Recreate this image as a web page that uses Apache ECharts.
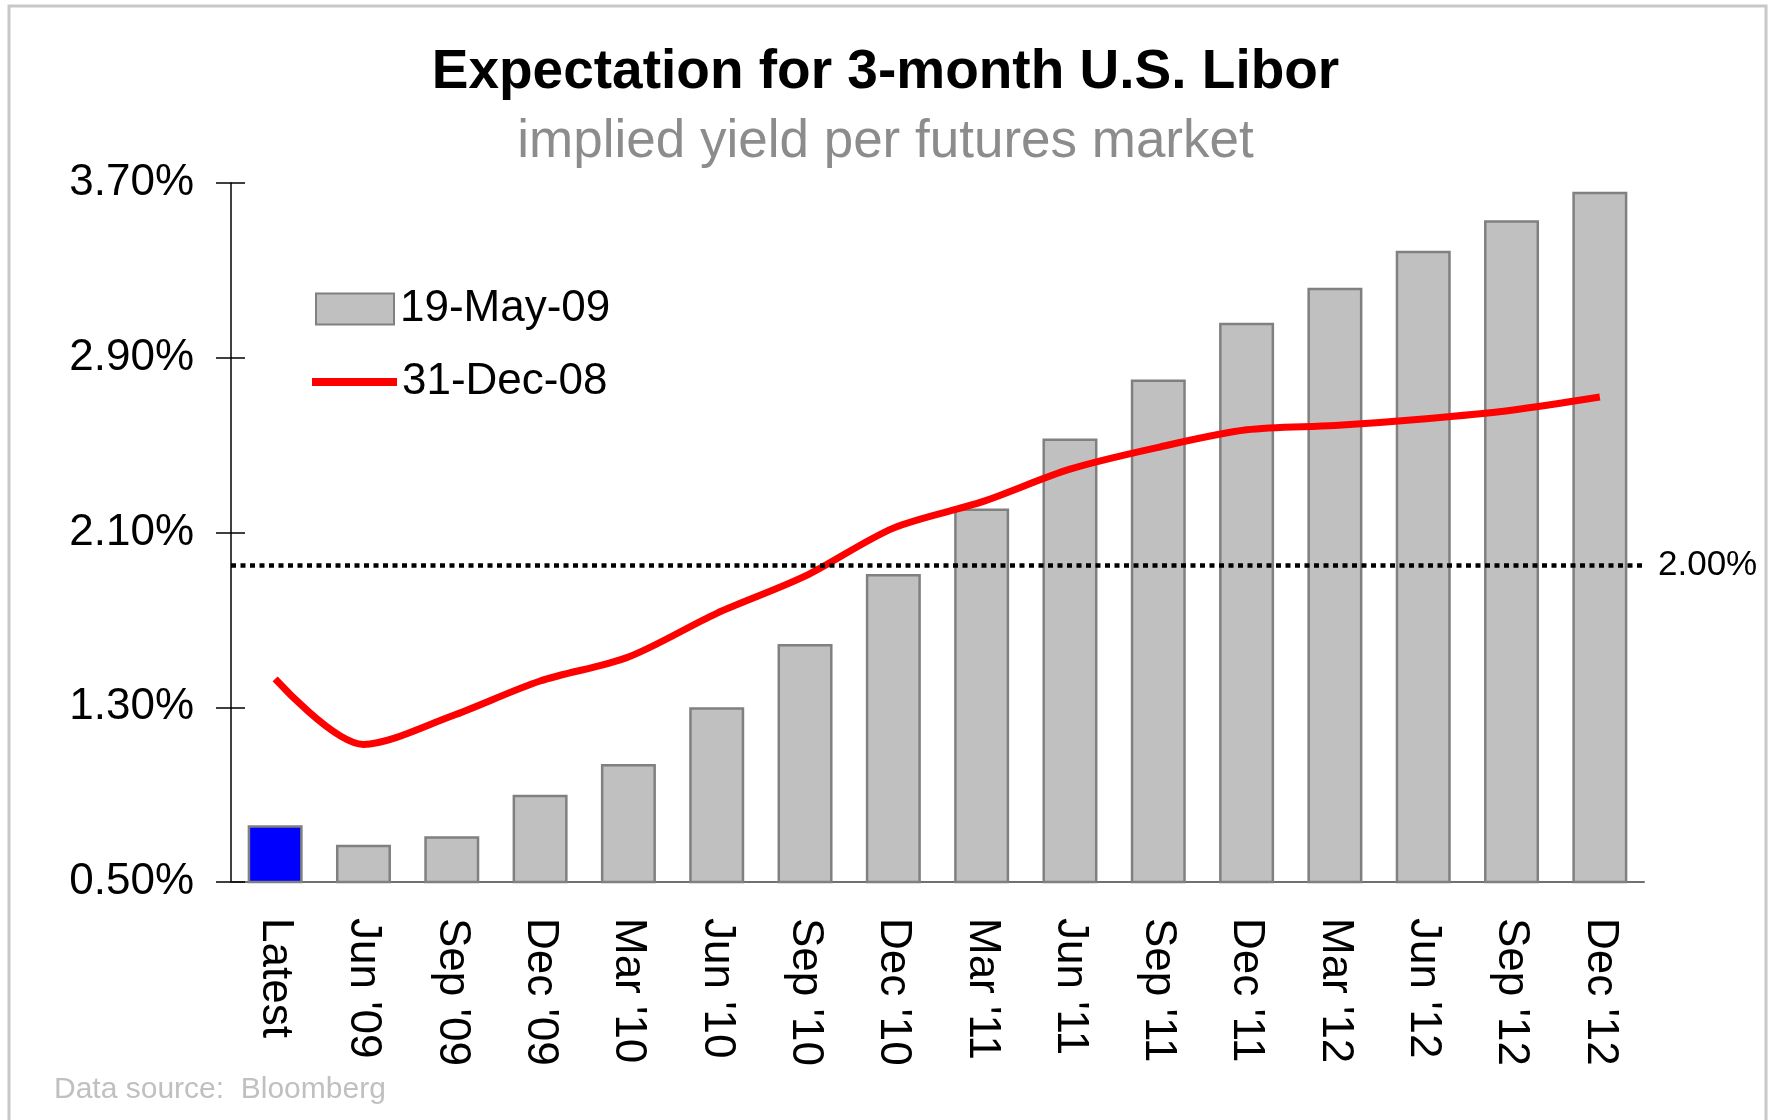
<!DOCTYPE html>
<html>
<head>
<meta charset="utf-8">
<script src="https://cdn.jsdelivr.net/npm/echarts@6/dist/echarts.min.js"></script>
<style>
  html, body { margin: 0; padding: 0; background: #fff; }
  #myChart { width: 1771px; height: 1120px; }
</style>
</head>
<body>
<div id="myChart"></div>
<script>
// 数据
const categories = ['Latest', "Jun '09", "Sep '09", "Dec '09", "Mar '10", "Jun '10", "Sep '10", "Dec '10",
  "Mar '11", "Jun '11", "Sep '11", "Dec '11", "Mar '12", "Jun '12", "Sep '12", "Dec '12"]
const may09 = [0.76, 0.67, 0.71, 0.90, 1.04, 1.30, 1.59, 1.91, 2.21, 2.53, 2.80, 3.06, 3.22, 3.39, 3.53, 3.66]
const dec08 = [1.43, 1.13, 1.26, 1.42, 1.53, 1.73, 1.90, 2.12, 2.24, 2.39, 2.49, 2.57, 2.59, 2.62, 2.66, 2.72]
const yTicks = [0.5, 1.3, 2.1, 2.9, 3.7]
const thresholdValue = 1.95
const thresholdLabel = '2.00%'

const font = '"Liberation Sans", Arial, sans-serif'

let option = {
  backgroundColor: '#fff',
  animation: false,
  title: [
    {
      text: 'Expectation for 3-month U.S. Libor',
      left: 'center',
      top: 40,
      textStyle: {fontFamily: font, fontSize: 55, fontWeight: 'bold', color: '#000'}
    },
    {
      text: 'implied yield per futures market',
      left: 'center',
      top: 111,
      textStyle: {fontFamily: font, fontSize: 53, fontWeight: 'normal', color: '#8c8c8c'}
    }
  ],
  legend: [
    {
      left: 310,
      top: 282,
      itemWidth: 78,
      itemHeight: 31,
      textStyle: {fontFamily: font, fontSize: 44, color: '#000', padding: [0, 0, 0, 1]},
      data: [{name: '19-May-09', icon: 'rect'}]
    },
    {
      left: 307,
      top: 355,
      itemWidth: 85,
      itemHeight: 8,
      textStyle: {fontFamily: font, fontSize: 44, color: '#000', padding: [6, 0, 0, 0]},
      data: [{name: '31-Dec-08', icon: 'rect'}]
    }
  ],
  grid: {left: 231, right: 127, top: 183, bottom: 238, containLabel: false},
  xAxis: [
    {
      type: 'category',
      position: 'bottom',
      data: categories,
      axisLine: {lineStyle: {color: '#707070', width: 2}},
      axisTick: {length: 14, lineStyle: {color: '#222', width: 1.5}},
      axisLabel: {rotate: -90, margin: 36, fontFamily: font, fontSize: 44, color: '#000'}
    },
    {
      type: 'category',
      position: 'bottom',
      data: categories,
      axisLine: {show: false},
      axisTick: {inside: true, length: 14, lineStyle: {color: '#222', width: 1.5}},
      axisLabel: {show: false}
    }
  ],
  yAxis: [
    {
      type: 'value',
      position: 'left',
      min: 0.5,
      max: 3.7,
      splitLine: {show: false},
      axisLine: {show: true, lineStyle: {color: '#000', width: 1.5}},
      axisTick: {show: true, length: 15, customValues: yTicks, lineStyle: {color: '#000', width: 1.5}},
      axisLabel: {
        customValues: yTicks,
        margin: 37,
        fontFamily: font,
        fontSize: 44,
        color: '#000',
        formatter: v => v.toFixed(2) + '%'
      }
    },
    {
      type: 'value',
      position: 'left',
      min: 0.5,
      max: 3.7,
      splitLine: {show: false},
      axisLine: {show: false},
      axisTick: {show: true, inside: true, length: 14, customValues: yTicks, lineStyle: {color: '#000', width: 1.5}},
      axisLabel: {show: false}
    }
  ],
  series: [
    {
      name: '19-May-09',
      type: 'bar',
      barWidth: 55,
      itemStyle: {color: '#c0c0c0', borderColor: '#808080', borderWidth: 2.5},
      data: may09.map((v, i) => i === 0
        ? {value: v, itemStyle: {color: '#0000ff'}}
        : v),
      markLine: {
        silent: true,
        symbol: 'none',
        lineStyle: {color: '#000', type: [5, 4.5], width: 4.5},
        label: {
          position: 'end',
          distance: 14,
          formatter: thresholdLabel,
          fontFamily: font,
          fontSize: 35,
          color: '#000'
        },
        data: [{yAxis: thresholdValue}]
      }
    },
    {
      name: '31-Dec-08',
      type: 'line',
      z: 3,
      symbol: 'none',
      smooth: 0.3,
      lineStyle: {color: '#ff0000', width: 7},
      itemStyle: {color: '#ff0000'},
      data: dec08
    }
  ],
  graphic: [
    {
      type: 'rect',
      silent: true,
      shape: {x: 9, y: 6, width: 1757, height: 1140},
      style: {fill: 'none', stroke: '#c8c8c8', lineWidth: 3}
    },
    {
      type: 'text',
      left: 54,
      top: 1075,
      style: {text: 'Data source:  Bloomberg', fontFamily: font, fontSize: 30, fill: '#c0c0c0'}
    }
  ]
}

const myChart = echarts.init(document.getElementById('myChart'))
myChart.setOption(option)
</script>
</body>
</html>
